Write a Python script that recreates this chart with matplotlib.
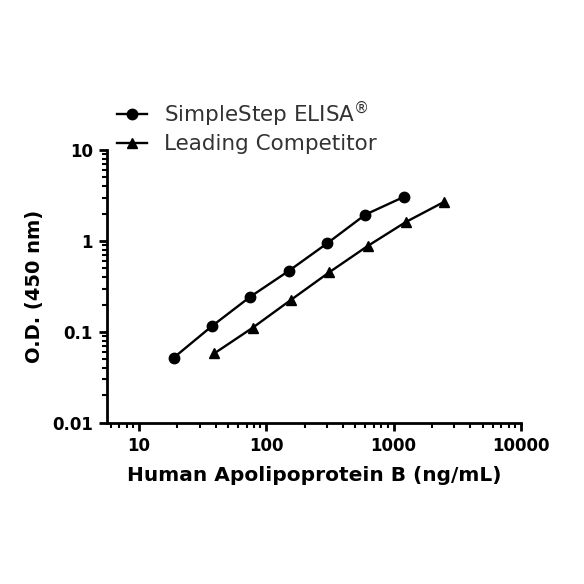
import matplotlib
matplotlib.use("Agg")
import matplotlib.pyplot as plt
from matplotlib.ticker import LogLocator, FixedLocator, NullFormatter

# standard curve data
simplestep_conc = [18.75, 37.5, 75, 150, 300, 600, 1200]
simplestep_od = [0.052, 0.116, 0.244, 0.468, 0.94, 1.95, 3.05]

competitor_conc = [39.06, 78.125, 156.25, 312.5, 625, 1250, 2500]
competitor_od = [0.058, 0.111, 0.225, 0.453, 0.88, 1.62, 2.7]

x_ticks = [10, 100, 1000, 10000]
x_ticklabels = ["10", "100", "1000", "10000"]
y_ticks = [0.01, 0.1, 1, 10]
y_ticklabels = ["0.01", "0.1", "1", "10"]

plt.rcParams['font.family'] = ['DejaVu Sans']

fig = plt.figure(figsize=(5.84, 5.84), dpi=100)
ax = fig.add_axes([0.183, 0.276, 0.709, 0.467])

ax.plot(simplestep_conc, simplestep_od, '-o', color='black', lw=1.7,
        markersize=7.5, label='SimpleStep ELISA$^{\\circledR}$')
ax.plot(competitor_conc, competitor_od, '-^', color='black', lw=1.7,
        markersize=7.5, label='Leading Competitor')

ax.set_xscale('log')
ax.set_yscale('log')
ax.set_xlim(5.6, 10000)
ax.set_ylim(0.01, 10)

ax.xaxis.set_major_locator(FixedLocator(x_ticks))
ax.set_xticklabels(x_ticklabels)
ax.yaxis.set_major_locator(FixedLocator(y_ticks))
ax.set_yticklabels(y_ticklabels)
ax.xaxis.set_minor_locator(LogLocator(base=10, subs=range(2, 10)))
ax.yaxis.set_minor_locator(LogLocator(base=10, subs=range(2, 10)))
ax.xaxis.set_minor_formatter(NullFormatter())
ax.yaxis.set_minor_formatter(NullFormatter())

for side in ['top', 'right']:
    ax.spines[side].set_visible(False)
for side in ['left', 'bottom']:
    ax.spines[side].set_linewidth(2)

ax.tick_params(which='major', length=6, width=2, direction='out', labelsize=12, pad=4)
ax.tick_params(which='minor', length=3.5, width=1.5, direction='out')
for lbl in ax.get_xticklabels() + ax.get_yticklabels():
    lbl.set_fontweight('bold')

ax.set_xlabel('Human Apolipoprotein B (ng/mL)', fontsize=14.5, fontweight='bold', labelpad=8)
ax.set_ylabel('O.D. (450 nm)', fontsize=14, fontweight='bold', labelpad=6)

leg = fig.legend(loc='upper left', bbox_to_anchor=(0.185, 0.845), frameon=False,
                 fontsize=15.5, handlelength=1.4, handletextpad=0.8, labelspacing=0.25,
                 borderaxespad=0)
for t in leg.get_texts():
    t.set_color('#333333')

fig.savefig('out.png', dpi=100)
